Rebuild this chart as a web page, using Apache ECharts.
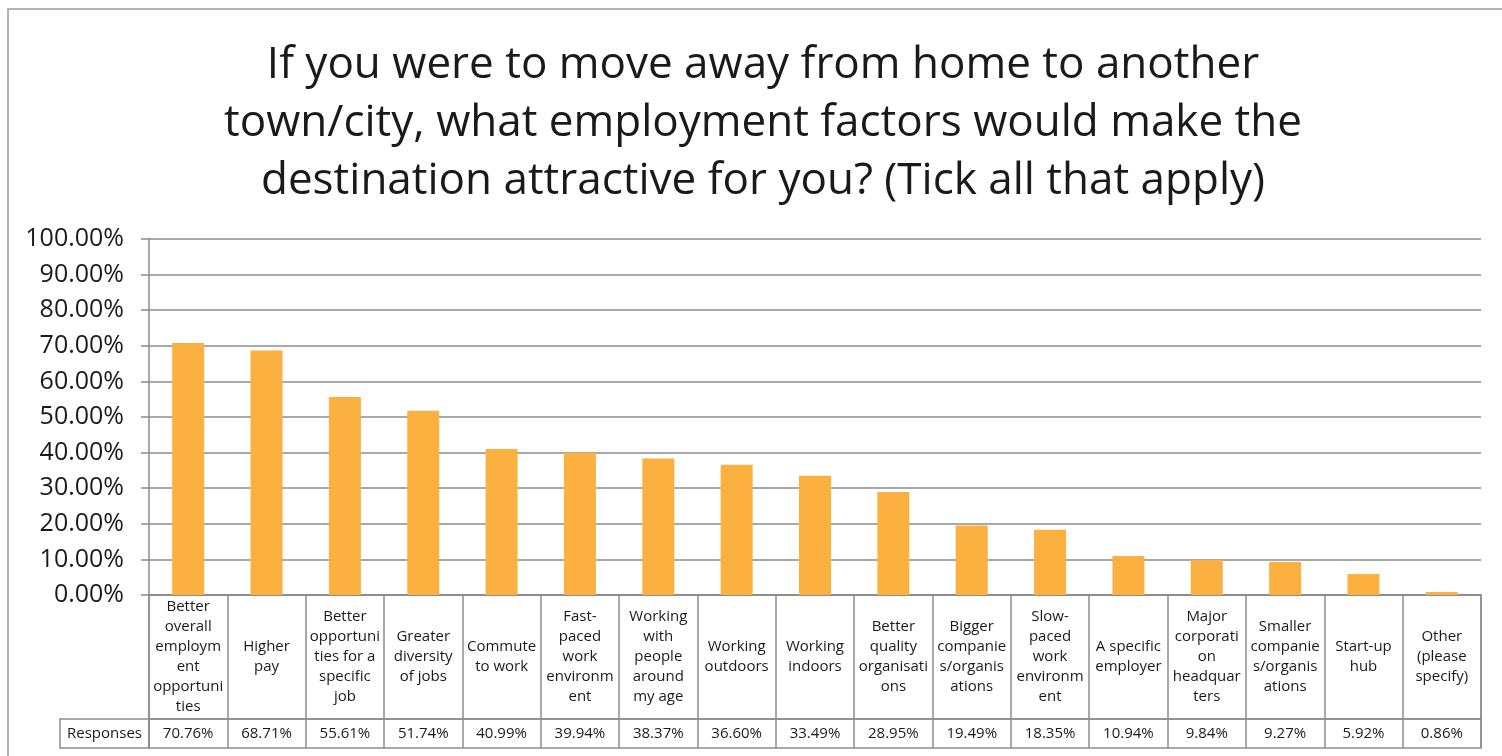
<!DOCTYPE html>
<html>
<head>
<meta charset="utf-8">
<script src="https://cdn.jsdelivr.net/npm/echarts@6/dist/echarts.min.js"></script>
<style>
  html, body { margin: 0; padding: 0; background: #fff; }
  #main { width: 1502px; height: 756px; }
</style>
</head>
<body>
<div id="main"></div>
<script>
// category labels as wrapped in the table cells
var categories = [
    'Better\noverall\nemploym\nent\nopportuni\nties',
    'Higher\npay',
    'Better\nopportuni\nties for a\nspecific\njob',
    'Greater\ndiversity\nof jobs',
    'Commute\nto work',
    'Fast-\npaced\nwork\nenvironm\nent',
    'Working\nwith\npeople\naround\nmy age',
    'Working\noutdoors',
    'Working\nindoors',
    'Better\nquality\norganisati\nons',
    'Bigger\ncompanie\ns/organis\nations',
    'Slow-\npaced\nwork\nenvironm\nent',
    'A specific\nemployer',
    'Major\ncorporati\non\nheadquar\nters',
    'Smaller\ncompanie\ns/organis\nations',
    'Start-up\nhub',
    'Other\n(please\nspecify)'
];
var responses = [70.76, 68.71, 55.61, 51.74, 40.99, 39.94, 38.37, 36.60, 33.49, 28.95, 19.49, 18.35, 10.94, 9.84, 9.27, 5.92, 0.86];
var yTicks = [0, 10, 20, 30, 40, 50, 60, 70, 80, 90, 100];

var font = '"Open Sans", Lato, sans-serif';
var lineColor = '#8c8c8c';

var dom = document.getElementById('main');
var myChart = echarts.init(dom);

option = {
    backgroundColor: '#fff',
    textStyle: { fontFamily: font },
    title: {
        text: 'If you were to move away from home to another\ntown/city, what employment factors would make the\ndestination attractive for you? (Tick all that apply)',
        left: 758,
        top: 31,
        textAlign: 'center',
        textStyle: {
            fontFamily: font,
            fontSize: 44,
            fontWeight: 'normal',
            color: '#1a1a1a',
            lineHeight: 58
        }
    },
    graphic: [{
        type: 'rect',
        shape: { x: 8, y: 9, width: 1600, height: 800 },
        style: { fill: 'none', stroke: '#9a9a9a', lineWidth: 1.5 },
        silent: true
    }, {
        type: 'rect',
        shape: { x: 60, y: 719, width: 89, height: 29 },
        style: { fill: 'none', stroke: lineColor, lineWidth: 1.5 },
        silent: true
    }, {
        type: 'text',
        x: 104.5,
        y: 733.5,
        style: {
            text: 'Responses',
            fontFamily: font,
            fontSize: 15,
            fill: '#1a1a1a',
            align: 'center',
            verticalAlign: 'middle'
        }
    }],
    grid: [
        { left: 149, right: 21, top: 239, height: 356 },
        { left: 149, right: 21, top: 595, height: 124, show: true, borderColor: lineColor, borderWidth: 1.5 },
        { left: 149, right: 21, top: 719, height: 29, show: true, borderColor: lineColor, borderWidth: 1.5 }
    ],
    xAxis: [{
        gridIndex: 0,
        type: 'category',
        data: categories,
        axisLine: { show: true, lineStyle: { color: lineColor, width: 1.5 } },
        axisTick: { show: false },
        axisLabel: { show: false }
    }, {
        gridIndex: 1,
        type: 'category',
        data: categories,
        axisLine: { show: false },
        axisTick: { show: false },
        splitLine: { show: true, lineStyle: { color: lineColor, width: 1.5 } },
        axisLabel: {
            interval: 0,
            margin: -62,
            verticalAlign: 'middle',
            align: 'center',
            fontFamily: font,
            fontSize: 15,
            lineHeight: 20,
            color: '#1a1a1a'
        }
    }, {
        gridIndex: 2,
        type: 'category',
        data: categories,
        axisLine: { show: false },
        axisTick: { show: false },
        splitLine: { show: true, lineStyle: { color: lineColor, width: 1.5 } },
        axisLabel: {
            interval: 0,
            margin: -14.5,
            verticalAlign: 'middle',
            align: 'center',
            fontFamily: font,
            fontSize: 15,
            color: '#1a1a1a',
            formatter: function (v, i) {
                return responses[i].toFixed(2) + '%';
            }
        }
    }],
    yAxis: [{
        gridIndex: 0,
        type: 'value',
        min: yTicks[0],
        max: yTicks[yTicks.length - 1],
        interval: 10,
        axisLine: { show: true, lineStyle: { color: lineColor, width: 1.5 } },
        axisTick: { show: true, length: 8, lineStyle: { color: lineColor, width: 1.5 } },
        splitLine: { lineStyle: { color: lineColor, width: 1.5 } },
        axisLabel: {
            margin: 25,
            fontFamily: font,
            fontSize: 25,
            color: '#1a1a1a',
            formatter: function (v) { return v.toFixed(2) + '%'; }
        }
    }, {
        gridIndex: 1, type: 'value', show: false, min: 0, max: 1, splitLine: { show: false }
    }, {
        gridIndex: 2, type: 'value', show: false, min: 0, max: 1, splitLine: { show: false }
    }],
    series: [{
        name: 'Responses',
        type: 'bar',
        xAxisIndex: 0,
        yAxisIndex: 0,
        data: responses,
        barWidth: 32,
        itemStyle: { color: '#fbb040' }
    }]
};
if (option && typeof option === "object") {
    myChart.setOption(option, true);
}
</script>
</body>
</html>
